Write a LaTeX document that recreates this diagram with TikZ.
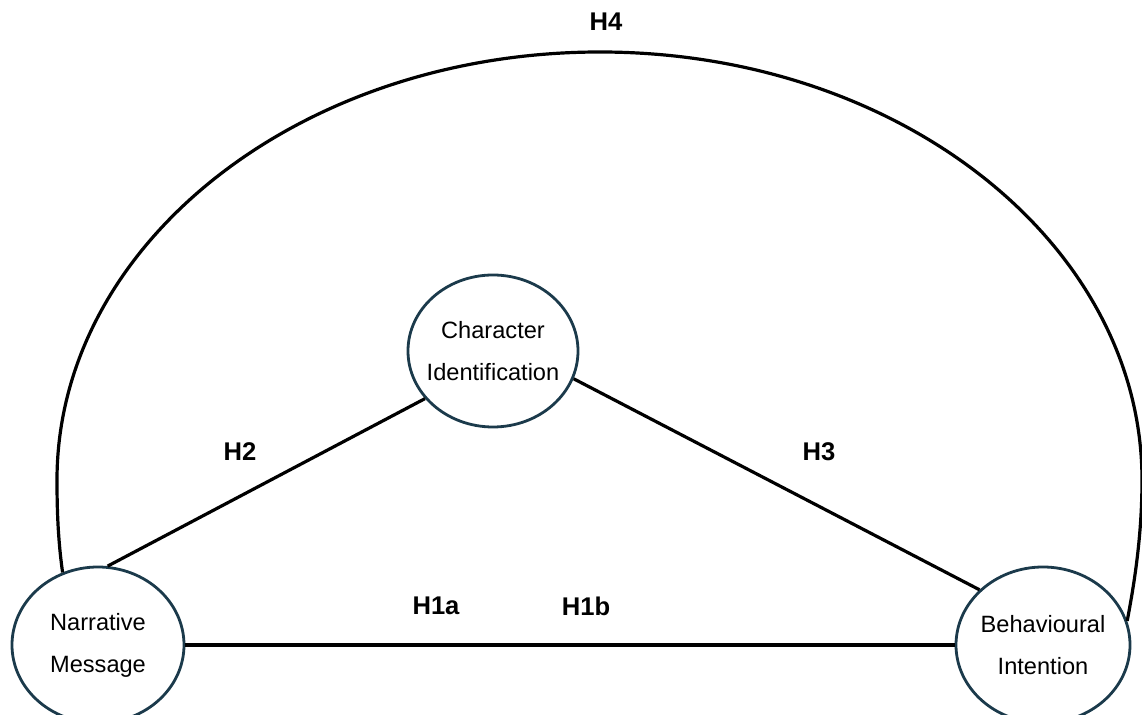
\documentclass[tikz,border=0pt]{standalone}
\usepackage{fontspec}
\setmainfont{Liberation Sans}
\usetikzlibrary{shapes.geometric}
\definecolor{rim}{HTML}{1B3A4B}
\begin{document}
\begin{tikzpicture}[x=0.5pt,y=-0.5pt,
  var/.style={ellipse,draw=rim,line width=1.4pt,fill=white,inner sep=0pt,minimum width=85pt,minimum height=76pt},
  vtext/.style={align=center,font=\fontsize{11.8}{21}\selectfont},
  hyp/.style={font=\fontsize{12.8}{15}\selectfont\bfseries},
  link/.style={line width=1.6pt,black}]
\useasboundingbox (0,0) rectangle (1142,715);
\node[var,label={[vtext]center:Character\\Identification}] (ci) at (493,351) {};
\node[var,minimum width=86pt,minimum height=78pt,label={[vtext]center:Narrative\\Message}] (nm) at (98,645) {};
\node[var,minimum width=87pt,minimum height=78pt,label={[vtext]center:Behavioural\\Intention}] (bi) at (1043,645) {};
\draw[link] (nm.83) -- (ci.215);
\draw[link] (ci.341) -- (bi.139);
\draw[link] (nm.east) -- (bi.west);
\draw[link] (nm.116) .. controls (58,540) and (57,510) .. (57,480)
  .. controls (57,244) and (300,52) .. (600,52)
  .. controls (900,52) and (1142,244) .. (1142,480)
  .. controls (1142,540) and (1133,590) .. (bi.16);
\node[hyp] (h4) at (606,22) {H4};
\node[hyp] (h2) at (240,452) {H2};
\node[hyp] (h3) at (819,452) {H3};
\node[hyp] (h1a) at (436,606) {H1a};
\node[hyp] (h1b) at (586,606) {H1b};
\end{tikzpicture}
\end{document}
